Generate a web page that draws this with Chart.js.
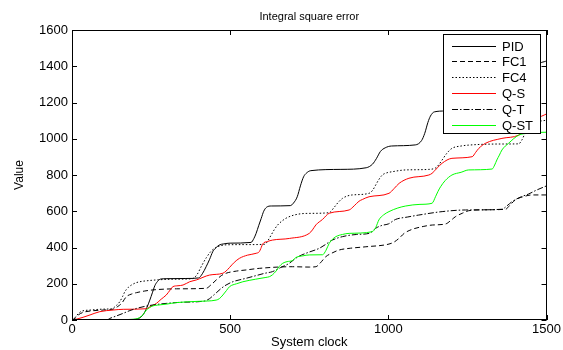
<!DOCTYPE html>
<html><head><meta charset="utf-8">
<script src="https://cdn.jsdelivr.net/npm/chart.js@4"></script>
<style>html,body{margin:0;padding:0;background:#fff}</style>
</head><body>
<canvas id="c" width="563" height="350"></canvas>
<script>
// ---- data ----
const chartTitle = 'Integral square error';
const xTitle = 'System clock';
const yTitle = 'Value';
const seriesNames = ['PID', 'FC1', 'FC4', 'Q-S', 'Q-T', 'Q-ST'];
const xTicks = [0, 500, 1000, 1500];
const yTicks = [0, 200, 400, 600, 800, 1000, 1200, 1400, 1600];

const pidX = [0,100,180,210,225,237,246,254,262,270,280,300,360,400,412,424,435,445,456,466,480,500,566,575,582,590,598,606,615,630,690,700,712,722,732,742,755,850,930,950,962,975,990,1010,1085,1105,1115,1125,1133,1145,1180,1280,1300,1320,1450,1470,1500];
const pidY = [0,0,2,8,30,70,110,150,190,212,226,228,229,232,255,294,335,377,400,414,420,424,428,450,478,520,560,600,622,629,631,645,680,740,790,812,824,831,840,860,890,930,950,960,966,990,1030,1090,1125,1148,1153,1160,1250,1300,1310,1400,1430];

const fc1X = [0,10,20,35,60,100,130,145,157,172,188,204,230,256,330,424,440,456,472,487,520,550,592,697,750,771,785,802,825,844,880,929,1002,1018,1034,1050,1075,1110,1139,1181,1198,1212,1235,1254,1300,1370,1385,1401,1430,1454,1500];
const fc1Y = [0,10,28,42,50,55,60,75,92,129,143,151,160,166,172,175,195,221,245,258,270,276,285,294,292,294,315,349,372,386,396,404,419,430,451,478,500,516,524,530,550,570,590,603,608,611,635,662,682,690,690];

const fc4X = [0,10,20,30,60,100,125,140,151,160,167,178,188,200,214,240,267,320,380,395,410,425,440,455,470,490,560,610,620,630,640,650,663,676,700,740,813,828,842,855,870,886,939,950,960,970,981,995,1012,1055,1128,1150,1160,1170,1185,1201,1230,1254,1360,1412,1422,1435,1460,1500];
const fc4Y = [0,15,35,48,55,60,62,80,101,130,156,180,193,204,211,217,221,225,228,250,300,345,380,400,410,415,416,418,440,470,500,524,545,561,578,588,592,620,650,671,684,690,699,715,745,775,800,812,818,828,831,840,858,883,920,947,960,965,971,972,993,1040,1085,1103];

const qsX = [0,15,35,57,88,130,162,235,246,257,267,282,298,310,319,335,351,372,393,435,477,487,498,513,529,555,582,592,597,603,618,634,687,750,760,771,792,813,876,892,907,918,939,1002,1018,1034,1065,1128,1138,1155,1170,1201,1265,1276,1286,1307,1359,1412,1440,1470,1500];
const qsY = [0,5,15,28,46,55,59,62,73,82,92,115,138,165,184,189,193,211,221,248,258,270,290,318,340,358,368,377,395,420,433,441,450,478,497,525,555,589,607,630,655,665,680,699,725,754,782,800,809,840,865,892,901,925,947,975,1002,1020,1060,1110,1137];

const qtX = [0,110,120,140,162,183,204,230,260,300,350,420,435,445,456,470,487,510,550,582,610,634,660,687,705,718,750,781,800,823,855,900,939,950,960,980,1000,1023,1060,1096,1170,1244,1359,1375,1391,1420,1443,1470,1500];
const qtY = [0,0,9,22,37,52,64,75,84,92,98,105,118,133,150,172,193,212,230,245,258,267,290,313,338,352,375,395,415,441,460,472,478,490,506,522,530,555,568,579,598,607,611,630,653,680,695,718,740];

const qstX = [0,150,200,214,225,235,245,256,270,300,330,400,456,466,477,488,498,520,540,580,613,624,634,645,655,666,680,697,708,730,750,792,803,813,823,834,855,876,949,960,970,985,1002,1030,1055,1100,1138,1149,1157,1165,1180,1201,1230,1254,1328,1336,1343,1351,1359,1380,1412,1440,1470,1500];
const qstY = [0,2,5,14,30,55,68,78,82,88,96,103,110,118,138,162,184,200,211,225,235,239,250,270,295,313,322,328,345,354,359,360,385,423,445,460,472,478,487,510,552,580,598,618,629,638,644,680,710,735,770,800,815,828,833,855,883,910,938,975,1020,1030,1035,1036];

// ---- styling ----
const FONT = "'Liberation Sans', Arial, Helvetica, sans-serif";
const seriesX = [pidX, fc1X, fc4X, qsX, qtX, qstX];
const seriesY = [pidY, fc1Y, fc4Y, qsY, qtY, qstY];
const seriesColor = ['#000000', '#000000', '#000000', '#ff0000', '#000000', '#00ff00'];
const seriesDash = [[], [5, 3], [1.5, 2], [], [6, 2, 1.5, 2], []];

const datasets = seriesNames.map((name, i) => ({
  label: name,
  data: seriesX[i].map((x, k) => ({x: x, y: seriesY[i][k]})),
  borderColor: seriesColor[i],
  borderDash: seriesDash[i],
  borderWidth: 1,
  pointRadius: 0,
  fill: false,
  cubicInterpolationMode: 'monotone',
  xAxisID: 'x',
  yAxisID: 'y',
  order: seriesNames.length - i
}));

// inward MATLAB-style ticks and the frame
const framePlugin = {
  id: 'frame',
  afterDraw(chart) {
    const {ctx, chartArea: a, scales} = chart;
    const xs = scales.x, ys = scales.y;
    ctx.save();
    ctx.strokeStyle = '#000';
    ctx.lineWidth = 1;
    ctx.setLineDash([]);
    ctx.strokeRect(Math.round(a.left) + 0.5, Math.round(a.top) + 0.5,
                   Math.round(a.right - a.left) - 1, Math.round(a.bottom - a.top) - 1);
    const L = 5;
    ctx.beginPath();
    xTicks.forEach(v => {
      const p = Math.round(xs.getPixelForValue(v)) + 0.5;
      ctx.moveTo(p, a.bottom); ctx.lineTo(p, a.bottom - L);
      ctx.moveTo(p, a.top); ctx.lineTo(p, a.top + L);
    });
    yTicks.forEach(v => {
      const p = Math.round(ys.getPixelForValue(v)) + 0.5;
      ctx.moveTo(a.left, p); ctx.lineTo(a.left + L, p);
      ctx.moveTo(a.right, p); ctx.lineTo(a.right - L, p);
    });
    ctx.stroke();
    ctx.restore();
  }
};

// boxed legend, drawn over the lines (opaque, like MATLAB)
const boxLegend = {
  id: 'boxLegend',
  afterDatasetsDraw(chart) {
    const {ctx, chartArea: a} = chart;
    const w = 97, h = 99;
    const x0 = Math.round(a.right) - 7 - w + 0.5;
    const y0 = Math.round(a.top) + 4 + 0.5;
    ctx.save();
    ctx.setLineDash([]);
    ctx.fillStyle = '#ffffff';
    ctx.fillRect(x0, y0, w, h);
    ctx.strokeStyle = '#000000';
    ctx.lineWidth = 1;
    ctx.strokeRect(x0, y0, w, h);
    ctx.font = '13px ' + FONT;
    ctx.textBaseline = 'middle';
    ctx.textAlign = 'left';
    for (let i = 0; i < seriesNames.length; i++) {
      const yy = Math.round(y0 + 11 + i * 15.8) + 0.5;
      ctx.save();
      ctx.beginPath();
      ctx.lineWidth = 1;
      ctx.strokeStyle = seriesColor[i];
      ctx.setLineDash(seriesDash[i]);
      ctx.moveTo(x0 + 8.5, yy);
      ctx.lineTo(x0 + 52.5, yy);
      ctx.stroke();
      ctx.restore();
      ctx.fillStyle = '#000000';
      ctx.fillText(seriesNames[i], x0 + 58.5, yy + 0.5);
    }
    ctx.restore();
  }
};

const plainNumber = v => String(v);

new Chart(document.getElementById('c').getContext('2d'), {
  type: 'line',
  data: {datasets: datasets},
  options: {
    responsive: false,
    animation: false,
    devicePixelRatio: 1,
    layout: {padding: {left: 0, right: 15, top: 0, bottom: 0}},
    plugins: {
      legend: {display: false},
      title: {display: false},
      tooltip: {enabled: false}
    },
    scales: {
      x: {
        type: 'linear', position: 'bottom', min: 0, max: 1500,
        afterBuildTicks: s => { s.ticks = xTicks.map(v => ({value: v})); },
        ticks: {color: '#000', font: {family: FONT, size: 13}, padding: 2, maxRotation: 0, autoSkip: false, callback: plainNumber},
        grid: {display: false, drawTicks: false},
        border: {display: false},
        title: {display: true, text: xTitle, color: '#000', font: {family: FONT, size: 13}, padding: {top: 0, bottom: 0}},
        afterFit: s => { s.height = 30; }
      },
      x2: {
        type: 'linear', position: 'top', min: 0, max: 1500,
        ticks: {display: false},
        grid: {display: false, drawTicks: false},
        border: {display: false},
        title: {display: true, text: chartTitle, color: '#000', font: {family: FONT, size: 11}, padding: {top: 10.4, bottom: 0}},
        afterFit: s => { s.height = 30; }
      },
      y: {
        type: 'linear', position: 'left', min: 0, max: 1600,
        afterBuildTicks: s => { s.ticks = yTicks.map(v => ({value: v})); },
        ticks: {color: '#000', font: {family: FONT, size: 13}, padding: 4, callback: plainNumber},
        grid: {display: false, drawTicks: false},
        border: {display: false},
        title: {display: true, text: yTitle, color: '#000', font: {family: FONT, size: 12}, padding: {top: 12.8, bottom: 0}},
        afterFit: s => { s.width = 72; }
      }
    }
  },
  plugins: [boxLegend, framePlugin]
});
</script>
</body></html>
